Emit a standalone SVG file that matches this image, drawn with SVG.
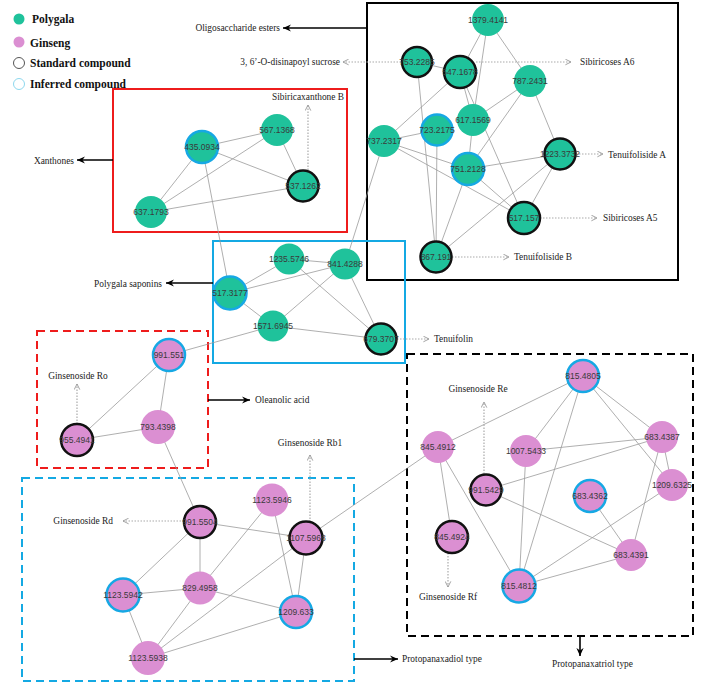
<svg xmlns="http://www.w3.org/2000/svg" width="702" height="684" viewBox="0 0 702 684">
<defs>
<marker id="ga" viewBox="0 0 10 10" refX="9" refY="5" markerWidth="7" markerHeight="7" orient="auto" markerUnits="userSpaceOnUse"><path d="M1,1 L9,5 L1,9" fill="none" stroke="#999" stroke-width="1.3"/></marker>
<marker id="ba" viewBox="0 0 10 10" refX="9" refY="5" markerWidth="9" markerHeight="9" orient="auto" markerUnits="userSpaceOnUse"><path d="M0,1 L9,5 L0,9 L3,5 Z" fill="#000"/></marker>
</defs>
<style>
.e{stroke:#9a9a9a;stroke-width:0.8;fill:none}
.d{stroke:#aaa;stroke-width:1.2;stroke-dasharray:1.5 1.5;fill:none;marker-end:url(#ga)}
.b{stroke:#000;stroke-width:1.6;fill:none;marker-end:url(#ba)}
.g{fill:#1fc29b}
.p{fill:#db8fd2}
.s{stroke:#111;stroke-width:2.5}
.i{stroke:#16a8e4;stroke-width:2.5}
.n{font-family:"Liberation Sans",Arial,sans-serif;font-size:8.5px;fill:#3a3a3a;text-anchor:middle}
.t{font-family:"Liberation Serif","Times New Roman",serif;font-size:9.4px;fill:#222}
.l{font-family:"Liberation Serif","Times New Roman",serif;font-size:11.5px;font-weight:bold;fill:#111}
.box{fill:none;stroke-width:2}
</style>
<rect width="702" height="684" fill="#fff"/>

<g id="legend">
<circle cx="19" cy="19" r="5.5" class="g"/>
<text x="32" y="23" class="l">Polygala</text>
<circle cx="19" cy="42" r="5.5" class="p"/>
<text x="30" y="47" class="l">Ginseng</text>
<circle cx="19" cy="63" r="5.5" fill="#fff" stroke="#555" stroke-width="1"/>
<text x="30" y="67" class="l">Standard compound</text>
<circle cx="19" cy="84" r="5.5" fill="#fff" stroke="#8ed8ee" stroke-width="1"/>
<text x="30" y="88" class="l">Inferred compound</text>
</g>

<g id="groups">
<rect x="367" y="3" width="311" height="277" class="box" stroke="#000"/>
<rect x="113" y="89" width="234" height="143" class="box" stroke="#ee1c1c"/>
<rect x="213" y="241" width="192" height="122" class="box" stroke="#14a9e3"/>
<rect x="37" y="331" width="171" height="137" class="box" stroke="#ee1c1c" stroke-dasharray="8 5"/>
<rect x="22" y="478" width="332" height="203" class="box" stroke="#14a9e3" stroke-dasharray="8 5"/>
<rect x="407" y="354" width="286" height="282" class="box" stroke="#000" stroke-dasharray="8 5"/>
</g>

<g id="connectors">
<line x1="488" y1="20" x2="460" y2="72" class="e"/>
<line x1="488" y1="20" x2="473" y2="120" class="e"/>
<line x1="488" y1="20" x2="530" y2="81" class="e"/>
<line x1="417" y1="62" x2="460" y2="72" class="e"/>
<line x1="417" y1="62" x2="436" y2="257" class="e"/>
<line x1="460" y1="72" x2="384" y2="141" class="e"/>
<line x1="460" y1="72" x2="473" y2="120" class="e"/>
<line x1="460" y1="72" x2="524" y2="218" class="e"/>
<line x1="530" y1="81" x2="473" y2="120" class="e"/>
<line x1="530" y1="81" x2="468" y2="169" class="e"/>
<line x1="530" y1="81" x2="560" y2="154" class="e"/>
<line x1="384" y1="141" x2="437" y2="130" class="e"/>
<line x1="384" y1="141" x2="468" y2="169" class="e"/>
<line x1="384" y1="141" x2="524" y2="218" class="e"/>
<line x1="384" y1="141" x2="345" y2="264" class="e"/>
<line x1="437" y1="130" x2="436" y2="257" class="e"/>
<line x1="473" y1="120" x2="468" y2="169" class="e"/>
<line x1="468" y1="169" x2="560" y2="154" class="e"/>
<line x1="468" y1="169" x2="436" y2="257" class="e"/>
<line x1="468" y1="169" x2="524" y2="218" class="e"/>
<line x1="560" y1="154" x2="524" y2="218" class="e"/>
<line x1="560" y1="154" x2="436" y2="257" class="e"/>
<line x1="202" y1="147" x2="277" y2="130" class="e"/>
<line x1="202" y1="147" x2="303" y2="186" class="e"/>
<line x1="202" y1="147" x2="151" y2="212" class="e"/>
<line x1="202" y1="147" x2="230" y2="293" class="e"/>
<line x1="277" y1="130" x2="151" y2="212" class="e"/>
<line x1="277" y1="130" x2="303" y2="186" class="e"/>
<line x1="151" y1="212" x2="303" y2="186" class="e"/>
<line x1="289" y1="259" x2="345" y2="264" class="e"/>
<line x1="289" y1="259" x2="230" y2="293" class="e"/>
<line x1="289" y1="259" x2="381" y2="339" class="e"/>
<line x1="345" y1="264" x2="230" y2="293" class="e"/>
<line x1="345" y1="264" x2="273" y2="326" class="e"/>
<line x1="345" y1="264" x2="381" y2="339" class="e"/>
<line x1="230" y1="293" x2="273" y2="326" class="e"/>
<line x1="273" y1="326" x2="381" y2="339" class="e"/>
<line x1="273" y1="326" x2="169" y2="355" class="e"/>
<line x1="169" y1="355" x2="77" y2="440" class="e"/>
<line x1="169" y1="355" x2="158" y2="427" class="e"/>
<line x1="77" y1="440" x2="158" y2="427" class="e"/>
<line x1="158" y1="427" x2="200" y2="522" class="e"/>
<line x1="200" y1="522" x2="306" y2="538" class="e"/>
<line x1="200" y1="522" x2="200" y2="588" class="e"/>
<line x1="200" y1="522" x2="123" y2="595" class="e"/>
<line x1="272" y1="500" x2="200" y2="588" class="e"/>
<line x1="272" y1="500" x2="296" y2="612" class="e"/>
<line x1="306" y1="538" x2="296" y2="612" class="e"/>
<line x1="306" y1="538" x2="148" y2="658" class="e"/>
<line x1="306" y1="538" x2="438" y2="447" class="e"/>
<line x1="200" y1="588" x2="123" y2="595" class="e"/>
<line x1="200" y1="588" x2="296" y2="612" class="e"/>
<line x1="200" y1="588" x2="148" y2="658" class="e"/>
<line x1="123" y1="595" x2="148" y2="658" class="e"/>
<line x1="296" y1="612" x2="148" y2="658" class="e"/>
<line x1="583" y1="376" x2="438" y2="447" class="e"/>
<line x1="583" y1="376" x2="526" y2="451" class="e"/>
<line x1="583" y1="376" x2="519" y2="586" class="e"/>
<line x1="583" y1="376" x2="662" y2="437" class="e"/>
<line x1="583" y1="376" x2="672" y2="485" class="e"/>
<line x1="438" y1="447" x2="452" y2="537" class="e"/>
<line x1="438" y1="447" x2="519" y2="586" class="e"/>
<line x1="526" y1="451" x2="662" y2="437" class="e"/>
<line x1="526" y1="451" x2="519" y2="586" class="e"/>
<line x1="486" y1="490" x2="662" y2="437" class="e"/>
<line x1="486" y1="490" x2="631" y2="555" class="e"/>
<line x1="590" y1="496" x2="631" y2="555" class="e"/>
<line x1="662" y1="437" x2="672" y2="485" class="e"/>
<line x1="662" y1="437" x2="631" y2="555" class="e"/>
<line x1="672" y1="485" x2="519" y2="586" class="e"/>
<line x1="631" y1="555" x2="519" y2="586" class="e"/>
<line x1="401" y1="62" x2="343" y2="62" class="d"/>
<line x1="476" y1="62" x2="571" y2="62" class="d"/>
<line x1="576" y1="154" x2="603" y2="154" class="d"/>
<line x1="540" y1="218" x2="597" y2="218" class="d"/>
<line x1="452" y1="257" x2="509" y2="257" class="d"/>
<line x1="308" y1="170" x2="308" y2="105" class="d"/>
<line x1="397" y1="339" x2="429" y2="339" class="d"/>
<line x1="77" y1="424" x2="77" y2="384" class="d"/>
<line x1="184" y1="521" x2="123" y2="521" class="d"/>
<line x1="310" y1="522" x2="310" y2="455" class="d"/>
<line x1="484" y1="474" x2="484" y2="402" class="d"/>
<line x1="448" y1="553" x2="448" y2="587" class="d"/>
<line x1="367" y1="28" x2="283" y2="28" class="b"/>
<line x1="113" y1="160" x2="77" y2="160" class="b"/>
<line x1="213" y1="283" x2="166" y2="283" class="b"/>
<line x1="208" y1="400" x2="250" y2="400" class="b"/>
<line x1="354" y1="659" x2="398" y2="659" class="b"/>
<line x1="580" y1="636" x2="580" y2="656" class="b"/>
</g>

<g id="labels">
<text x="280" y="31" class="t" text-anchor="end">Oligosaccharide esters</text>
<text x="340" y="65" class="t" text-anchor="end">3, 6’-O-disinapoyl sucrose</text>
<text x="580" y="65" class="t">Sibiricoses A6</text>
<text x="308" y="100" class="t" text-anchor="middle">Sibiricaxanthone B</text>
<text x="74" y="164" class="t" text-anchor="end">Xanthones</text>
<text x="608" y="158" class="t">Tenuifoliside A</text>
<text x="603" y="221" class="t">Sibiricoses A5</text>
<text x="514" y="260" class="t">Tenuifoliside B</text>
<text x="162" y="287" class="t" text-anchor="end">Polygala saponins</text>
<text x="434" y="342" class="t">Tenuifolin</text>
<text x="78" y="379" class="t" text-anchor="middle">Ginsenoside Ro</text>
<text x="255" y="403" class="t">Oleanolic acid</text>
<text x="478" y="392" class="t" text-anchor="middle">Ginsenoside Re</text>
<text x="310" y="446" class="t" text-anchor="middle">Ginsenoside Rb1</text>
<text x="113" y="524" class="t" text-anchor="end">Ginsenoside Rd</text>
<text x="448" y="600" class="t" text-anchor="middle">Ginsenoside Rf</text>
<text x="402" y="662" class="t">Protopanaxadiol type</text>
<text x="552" y="667" class="t">Protopanaxatriol type</text>
</g>

<g id="n1379"><circle cx="488" cy="20" r="16" class="g"/><text x="488" y="23" class="n">1379.4141</text></g>
<g id="n753"><circle cx="417" cy="62" r="15" class="g s"/><text x="417" y="65" class="n">753.2285</text></g>
<g id="n547"><circle cx="460" cy="72" r="16" class="g s"/><text x="460" y="75" class="n">547.1678</text></g>
<g id="n787"><circle cx="530" cy="81" r="16" class="g"/><text x="530" y="84" class="n">787.2431</text></g>
<g id="n617"><circle cx="473" cy="120" r="16" class="g"/><text x="473" y="123" class="n">617.1569</text></g>
<g id="n723"><circle cx="437" cy="130" r="15.5" class="g i"/><text x="437" y="133" class="n">723.2175</text></g>
<g id="n737"><circle cx="384" cy="141" r="16" class="g"/><text x="384" y="144" class="n">737.2317</text></g>
<g id="n751"><circle cx="468" cy="169" r="16" class="g i"/><text x="468" y="172" class="n">751.2128</text></g>
<g id="n1223"><circle cx="560" cy="154" r="15.5" class="g s"/><text x="560" y="157" class="n">1223.3732</text></g>
<g id="n517"><circle cx="524" cy="218" r="16" class="g s"/><text x="524" y="221" class="n">517.157</text></g>
<g id="n867"><circle cx="436" cy="257" r="15.5" class="g s"/><text x="436" y="260" class="n">867.191</text></g>

<g id="n435"><circle cx="202" cy="147" r="16" class="g i"/><text x="202" y="150" class="n">435.0934</text></g>
<g id="n567"><circle cx="277" cy="130" r="16" class="g"/><text x="277" y="133" class="n">567.1368</text></g>
<g id="n537"><circle cx="303" cy="186" r="15.5" class="g s"/><text x="303" y="189" class="n">537.1262</text></g>
<g id="n637"><circle cx="151" cy="212" r="16" class="g"/><text x="151" y="215" class="n">637.1793</text></g>

<g id="n1235"><circle cx="289" cy="259" r="15.5" class="g"/><text x="289" y="262" class="n">1235.5746</text></g>
<g id="n841"><circle cx="345" cy="264" r="15.5" class="g"/><text x="345" y="267" class="n">841.4288</text></g>
<g id="n5173"><circle cx="230" cy="293" r="16.5" class="g i"/><text x="230" y="296" class="n">517.3177</text></g>
<g id="n1571"><circle cx="273" cy="326" r="15.5" class="g"/><text x="273" y="329" class="n">1571.6945</text></g>
<g id="n679"><circle cx="381" cy="339" r="15.5" class="g s"/><text x="381" y="342" class="n">679.3707</text></g>

<g id="n991551"><circle cx="169" cy="355" r="16" class="p i"/><text x="169" y="358" class="n">991.551</text></g>
<g id="n793"><circle cx="158" cy="427" r="17" class="p"/><text x="158" y="430" class="n">793.4398</text></g>
<g id="n955"><circle cx="77" cy="440" r="16" class="p s"/><text x="77" y="443" class="n">955.4941</text></g>

<g id="n11235946"><circle cx="272" cy="500" r="16.5" class="p"/><text x="272" y="503" class="n">1123.5946</text></g>
<g id="n9915504"><circle cx="200" cy="522" r="16" class="p s"/><text x="200" y="525" class="n">991.5504</text></g>
<g id="n1107"><circle cx="306" cy="538" r="16.5" class="p s"/><text x="306" y="541" class="n">1107.5968</text></g>
<g id="n829"><circle cx="200" cy="588" r="16.5" class="p"/><text x="200" y="591" class="n">829.4958</text></g>
<g id="n11235942"><circle cx="123" cy="595" r="16.5" class="p i"/><text x="123" y="598" class="n">1123.5942</text></g>
<g id="n1209633"><circle cx="296" cy="612" r="16" class="p i"/><text x="296" y="615" class="n">1209.633</text></g>
<g id="n11235938"><circle cx="148" cy="658" r="17" class="p"/><text x="148" y="661" class="n">1123.5938</text></g>

<g id="n8154805"><circle cx="583" cy="376" r="16" class="p i"/><text x="583" y="379" class="n">815.4805</text></g>
<g id="n8454912"><circle cx="438" cy="447" r="16" class="p"/><text x="438" y="450" class="n">845.4912</text></g>
<g id="n1007"><circle cx="526" cy="451" r="16" class="p"/><text x="526" y="454" class="n">1007.5433</text></g>
<g id="n6834387"><circle cx="662" cy="437" r="16" class="p"/><text x="662" y="440" class="n">683.4387</text></g>
<g id="n9915429"><circle cx="486" cy="490" r="15.5" class="p s"/><text x="486" y="493" class="n">991.5429</text></g>
<g id="n6834362"><circle cx="590" cy="496" r="16" class="p i"/><text x="590" y="499" class="n">683.4362</text></g>
<g id="n12096325"><circle cx="672" cy="485" r="16" class="p"/><text x="672" y="488" class="n">1209.6325</text></g>
<g id="n6834391"><circle cx="631" cy="555" r="16" class="p"/><text x="631" y="558" class="n">683.4391</text></g>
<g id="n8454924"><circle cx="452" cy="537" r="16" class="p s"/><text x="452" y="540" class="n">845.4924</text></g>
<g id="n8154812"><circle cx="519" cy="586" r="16.5" class="p i"/><text x="519" y="589" class="n">815.4812</text></g>
</svg>
